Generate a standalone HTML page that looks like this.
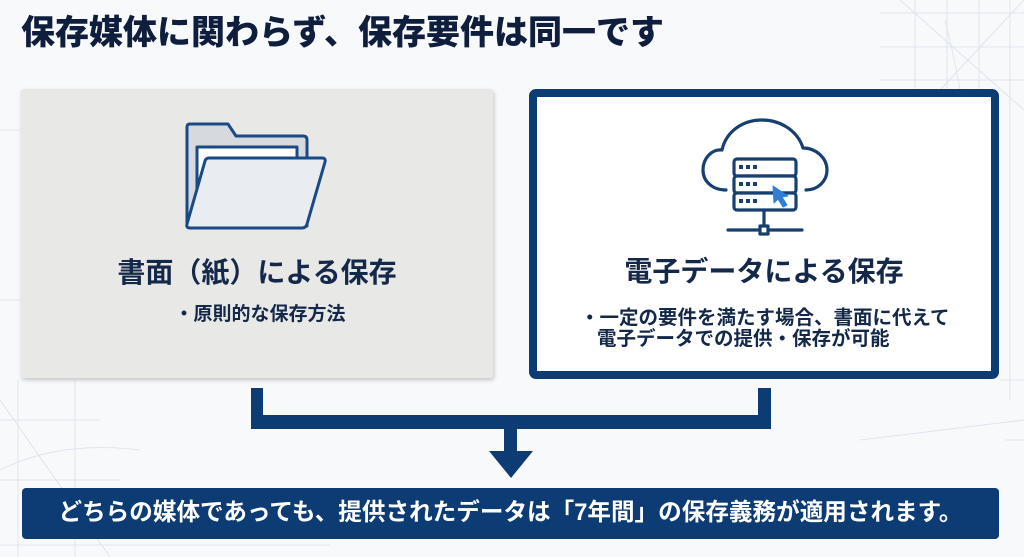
<!DOCTYPE html>
<html lang="ja">
<head>
<meta charset="utf-8">
<style>
  html,body{margin:0;padding:0;}
  body{width:1024px;height:557px;position:relative;overflow:hidden;background:#f8f9fb;
    font-family:"Liberation Sans","Noto Sans CJK JP",sans-serif;}
  .t{position:absolute;white-space:nowrap;font-weight:700;line-height:1;}
  svg{position:absolute;left:0;top:0;}
</style>
</head>
<body>
<svg width="1024" height="557" viewBox="0 0 1024 557">
  <defs>
    <filter id="sh" x="-5%" y="-5%" width="110%" height="115%">
      <feDropShadow dx="1" dy="2" stdDeviation="2" flood-color="#000" flood-opacity="0.22"/>
    </filter>
  </defs>
  <!-- faint grid background -->
  <g stroke="#dde3ec" stroke-width="1" fill="none" opacity="0.9">
    <line x1="915" y1="0" x2="915" y2="90"/>
    <line x1="947" y1="0" x2="947" y2="90"/>
    <line x1="979" y1="0" x2="979" y2="90"/>
    <line x1="1010" y1="0" x2="1010" y2="400"/>
    <line x1="880" y1="13" x2="1024" y2="13"/>
    <line x1="880" y1="47" x2="1024" y2="47"/>
    <line x1="880" y1="80" x2="1024" y2="80"/>
    <line x1="900" y1="0" x2="1024" y2="110"/>
    <line x1="1024" y1="0" x2="940" y2="90"/>
    <path d="M945 20 Q955 60 960 90"/>
    <line x1="1000" y1="380" x2="1024" y2="380"/>
    <line x1="1005" y1="440" x2="1024" y2="440"/>
    <line x1="0" y1="420" x2="100" y2="420"/>
    <line x1="0" y1="480" x2="120" y2="480"/>
    <line x1="0" y1="545" x2="330" y2="545"/>
    <line x1="18" y1="380" x2="18" y2="557"/>
    <line x1="75" y1="380" x2="75" y2="557"/>
    <line x1="0" y1="400" x2="110" y2="557"/>
    <path d="M0 470 Q60 440 140 450"/>
    <line x1="860" y1="440" x2="1024" y2="420"/>
    <line x1="0" y1="130" x2="20" y2="130"/>
    <line x1="0" y1="300" x2="20" y2="300"/>
  </g>

  <!-- left box -->
  <rect x="21" y="89" width="472" height="289" rx="3" fill="#e8e8e6" filter="url(#sh)"/>

  <!-- right box -->
  <rect x="533" y="93" width="462" height="282" rx="3" fill="#ffffff" stroke="#0d3b74" stroke-width="8"/>

  <!-- folder icon -->
  <g stroke="#1a4a85" stroke-width="3" stroke-linejoin="round">
    <path d="M190 124 L228 124 L236 136 L303 136 Q307 136 307 140 L307 226 L190 226 Q187 226 187 223 L187 127 Q187 124 190 124 Z" fill="#d6d9dd"/>
    <path d="M197 147 L297 147 L297 222 L197 222 Z" fill="#ffffff"/>
    <path d="M209 158 L322 158 Q326 158 325 162 L307 224 Q306 228 302 228 L190 228 Q186 228 187 224 L205 161 Q206 158 209 158 Z" fill="#e9ecf1"/>
  </g>

  <!-- cloud server icon -->
  <g fill="none" stroke="#173f70" stroke-width="3.2" stroke-linecap="round" stroke-linejoin="round">
    <path d="M726 190 C712 190 703 181 703 170 C703 158 712 149 722 150 C726 132 742 120 762 120 C782 120 798 132 803 148 C816 148 827 158 827 170 C827 181 818 190 806 190"/>
    <rect x="734" y="159" width="62" height="17" rx="3" fill="#fff"/>
    <rect x="734" y="176" width="62" height="17" rx="3" fill="#fff"/>
    <rect x="734" y="193" width="62" height="17" rx="3" fill="#fff"/>
    <line x1="764" y1="210" x2="764" y2="226"/>
    <line x1="728" y1="230" x2="760" y2="230"/>
    <line x1="768" y1="230" x2="802" y2="230"/>
    <rect x="760" y="226" width="8" height="8" fill="#fff"/>
  </g>
  <g fill="#173f70">
    <rect x="739" y="165" width="4" height="4"/><rect x="746" y="165" width="4" height="4"/><rect x="753" y="165" width="4" height="4"/>
    <rect x="739" y="182" width="4" height="4"/><rect x="746" y="182" width="4" height="4"/><rect x="753" y="182" width="4" height="4"/>
    <rect x="739" y="199" width="4" height="4"/><rect x="746" y="199" width="4" height="4"/><rect x="753" y="199" width="4" height="4"/>
  </g>
  <path d="M773 186 L774 203 L778 199 L783 207 L787 205 L782 197 L788 196 Z" fill="#2f7fd6" stroke="#2f7fd6" stroke-width="1" stroke-linejoin="round"/>

  <!-- connector -->
  <g fill="#0d3b74">
    <rect x="251" y="388" width="12" height="41"/>
    <rect x="758" y="388" width="13" height="41"/>
    <rect x="251" y="415" width="520" height="14" rx="1"/>
    <rect x="504" y="428" width="13" height="25"/>
    <polygon points="489,451 533,451 511,478"/>
  </g>

  <!-- bottom banner -->
  <rect x="22" y="488" width="977" height="51" rx="4" fill="#0d3b74"/>
</svg>

<div class="t" style="left:21px;top:16px;font-size:34px;font-weight:900;color:#0f1e3c;">保存媒体に関わらず、保存要件は同一です</div>

<div class="t" style="left:21px;width:472px;text-align:center;top:259px;font-size:28px;color:#14284a;">書面（紙）による保存</div>
<div class="t" style="left:21px;width:478px;text-align:center;top:305px;font-size:19px;color:#14284a;">・原則的な保存方法</div>

<div class="t" style="left:529px;width:470px;text-align:center;top:258px;font-size:28px;color:#14284a;">電子データによる保存</div>
<div class="t" style="left:580px;top:309px;font-size:19.5px;color:#14284a;">・一定の要件を満たす場合、書面に代えて</div>
<div class="t" style="left:597px;top:330px;font-size:19.5px;color:#14284a;">電子データでの提供・保存が可能</div>

<div class="t" style="left:22px;width:977px;text-align:center;top:502px;font-size:23.6px;color:#ffffff;">どちらの媒体であっても、提供されたデータは「7年間」の保存義務が適用されます。</div>
</body>
</html>
